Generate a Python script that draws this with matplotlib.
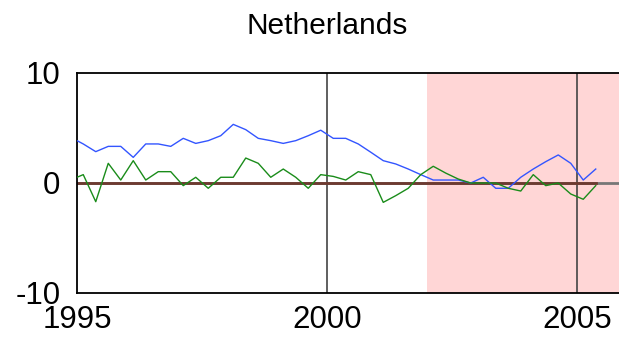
import matplotlib
matplotlib.use('Agg')
import matplotlib.pyplot as plt
import numpy as np

# quarterly observations (mid-quarter dates)
dates = 1994.875 + 0.25 * np.arange(43)

blue = [4.15,
        3.55, 2.85, 3.33, 3.33,
        2.33, 3.55, 3.55, 3.33,
        4.06, 3.60, 3.85, 4.30,
        5.33, 4.85, 4.06, 3.85,
        3.60, 3.85, 4.30, 4.80,
        4.06, 4.06, 3.55, 2.80,
        2.03, 1.73, 1.27, 0.76,
        0.27, 0.27, 0.27, 0.00,
        0.52, -0.48, -0.48, 0.52,
        1.27, 1.94, 2.55, 1.79,
        0.27, 1.27]

green = [0.28,
         0.76, -1.70, 1.79, 0.27,
         2.03, 0.27, 1.03, 1.03,
         -0.24, 0.52, -0.48, 0.52,
         0.52, 2.27, 1.79, 0.52,
         1.27, 0.52, -0.48, 0.76,
         0.60, 0.27, 1.03, 0.76,
         -1.76, -1.15, -0.48, 0.76,
         1.52, 0.90, 0.36, 0.00,
         0.00, 0.00, -0.48, -0.73,
         0.76, -0.24, 0.00, -1.00,
         -1.48, -0.24]

baseline = np.zeros(len(dates))

shade_start = 2002.0
shade_end = 2006.0
xticks = [1995, 2000, 2005]
yticks = [-10, 0, 10]

plt.rcParams['font.family'] = ['Liberation Sans', 'DejaVu Sans']
plt.rcParams['axes.unicode_minus'] = False

fig = plt.figure(figsize=(6.19, 3.39), dpi=100)
ax = fig.add_axes([77/619, 46/339, 550/619, 220/339])

ax.axvspan(shade_start, shade_end, color='#ffd6d6', lw=0, zorder=0)
ax.axhline(0, color='#777777', lw=2, zorder=1)
for x in xticks[1:]:
    ax.axvline(x, color='#444444', lw=1.2, zorder=1)

ax.plot(dates, baseline, color='#6e3a30', lw=2, zorder=2)
ax.plot(dates, blue, color='#3355ff', lw=1, zorder=3)
ax.plot(dates, green, color='#1a8c1a', lw=1, zorder=3)

ax.set_xlim(1995, 2006)
ax.set_ylim(-10, 10)
ax.set_xticks(xticks)
ax.set_yticks(yticks)
ax.tick_params(length=0, labelsize=22.5)
ax.tick_params(axis='y', pad=12)
ax.tick_params(axis='x', pad=9)
for lab in ax.get_yticklabels():
    lab.set_va('center_baseline')
for s in ax.spines.values():
    s.set_linewidth(1.3)

fig.text(327/619, 1 - 34/339, 'Netherlands', ha='center', va='baseline', fontsize=21.5)

fig.savefig('out.png', dpi=100)
